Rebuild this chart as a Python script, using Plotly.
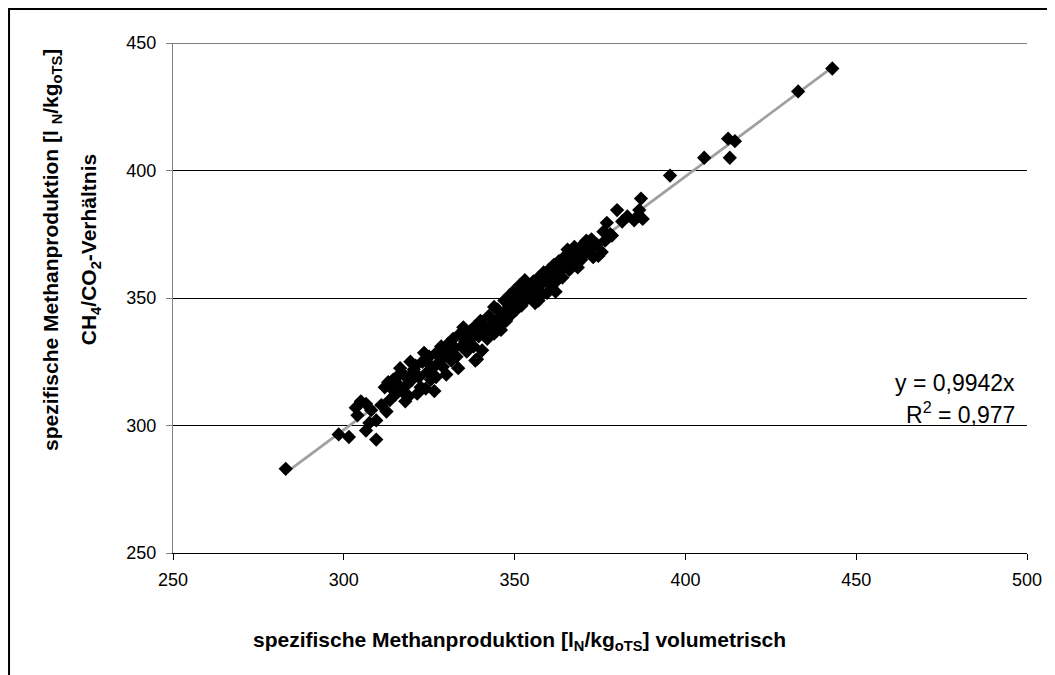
import plotly.graph_objects as go

# Spezifische Methanproduktion: volumetrisch (x) vs. aus CH4/CO2-Verhältnis (y), lN/kgoTS
VOL_X = [
    283, 298.5, 301.5, 309.5, 306.5, 307.5, 309.5, 304, 306.5, 312.5, 303.5, 308, 305, 311,
    313, 314.5, 315.5, 316, 317, 317.5, 318.5, 319, 320, 320.5, 321, 322, 322.5, 323, 324,
    324.5, 325, 325.5, 326, 327, 327.5, 328, 328.5, 329, 329.5, 330, 315, 318, 313.5, 316.5,
    319.5, 321.5, 326.5, 323.5, 314, 320, 325, 328, 312,
    330.5, 331, 331.5, 332, 332.5, 333, 334, 334.5, 335, 335.5, 336, 337, 337.5, 338, 338.5,
    339, 339.5, 340, 340.5, 341, 342, 342.5, 343, 344, 344.5, 345, 345.5, 346, 346.5, 347,
    347.5, 348, 348.5, 349, 349.5, 350, 350.5, 338.5, 333.5, 336, 341, 344, 347,
    351, 351.5, 352, 352.5, 353, 353.5, 354, 355, 355.5, 356, 356.5, 357, 357.5, 358, 358.5,
    359, 359.5, 360, 360.5, 361, 361.5, 362, 362.5, 363, 363.5, 364, 364.5, 365, 365.5, 366,
    366.5, 367, 367.5, 368, 368.5, 369, 369.5, 370, 357, 362, 354, 360, 365,
    370.5, 371, 372, 372.5, 373, 374, 374.5, 375.5, 376, 376.5, 377, 378, 378.5, 380, 381.5,
    383, 385, 386, 386.5, 387, 387.5,
    395.5, 405.5, 413, 412.5, 414.5, 433, 443,
]
RATIO_Y = [
    283, 296.5, 295.5, 294.5, 298, 301, 302, 304, 308.5, 305.5, 307, 306, 309.5, 308,
    317, 318, 319, 316, 313.5, 320, 316, 311.5, 318, 322, 323.5, 319, 315, 325, 314.5,
    321, 327, 318, 322.5, 319, 329, 325, 331, 323, 327.5, 320, 312, 309.5, 310, 322.5,
    325, 312.5, 313.5, 328.5, 314.5, 320.5, 324, 327, 315,
    332, 329, 325.5, 334, 330.5, 327, 336, 331, 338.5, 333, 329, 337, 334.5, 331, 339,
    326, 335, 341, 329.5, 337.5, 334, 343, 338.5, 336, 341, 345.5, 339, 337.5, 343.5, 349,
    341, 346, 351, 343.5, 348, 353, 345.5, 325.5, 322.5, 333.5, 339.5, 346.5, 344.5,
    350, 355, 347, 352.5, 357, 349.5, 354, 351.5, 356.5, 348, 353, 358, 355, 351.5, 360,
    357, 352, 361, 358.5, 355, 363, 359.5, 357, 364.5, 361, 358, 366, 363, 369, 361,
    367, 364.5, 370, 366, 362, 368.5, 365, 371, 349, 352.5, 351, 356, 366.5,
    367.5, 372.5, 369, 373, 366, 371, 366.5, 368, 376, 372.5, 379.5, 375, 374.5, 384.5, 380,
    382, 380.5, 382, 384.5, 389, 381,
    398, 405, 405, 412.5, 411.5, 431, 440,
]

# Linearer Trend durch den Ursprung: y = 0,9942x
TREND_X = [282.5, 443.0]
TREND_Y = [280.9, 440.4]

X_TICKS = [250, 300, 350, 400, 450, 500]
Y_TICKS = [250, 300, 350, 400, 450]

FONT = "Liberation Sans, Arial, sans-serif"

fig = go.Figure()
fig.add_trace(go.Scatter(x=TREND_X, y=TREND_Y, mode="lines",
                         line=dict(color="#a0a0a0", width=2.8), hoverinfo="skip"))
fig.add_trace(go.Scatter(x=VOL_X, y=RATIO_Y, mode="markers",
                         marker=dict(symbol="diamond", size=11, color="black",
                                     line=dict(width=0))))

fig.update_layout(
    width=1047, height=667,
    margin=dict(l=165, r=28, t=35, b=122),
    paper_bgcolor="white", plot_bgcolor="white",
    showlegend=False,
    font=dict(family=FONT, size=18, color="black"),
    xaxis=dict(range=[250, 500], tickvals=X_TICKS, showgrid=False, zeroline=False,
               showline=True, linecolor="black", linewidth=1,
               ticks="outside", ticklen=6, tickcolor="black",
               tickfont=dict(size=18), ticklabelstandoff=4),
    yaxis=dict(range=[250, 450], tickvals=Y_TICKS, showgrid=True, gridcolor="black",
               gridwidth=1, zeroline=False, showline=True, linecolor="#808080",
               linewidth=1, ticks="outside", ticklen=6, tickcolor="#808080",
               tickfont=dict(size=18), ticklabelstandoff=6),
    shapes=[
        dict(type="line", xref="paper", yref="y", x0=0, x1=1, y0=450, y1=450,
             line=dict(color="#808080", width=2)),
        # outer chart frame (runs past the right and bottom edges)
        dict(type="rect", xref="paper", yref="paper",
             x0=-0.1920, x1=1.1, y0=-0.4, y1=1.0667,
             line=dict(color="black", width=2), fillcolor="rgba(0,0,0,0)",
             layer="above"),
    ],
    annotations=[
        dict(text="<b>spezifische Methanproduktion [l<sub>N</sub>/kg<sub>oTS</sub>] volumetrisch</b>",
             xref="paper", yref="paper", x=0.406, y=-0.173, showarrow=False,
             font=dict(size=21, family=FONT), xanchor="center", yanchor="middle"),
        dict(text="<b>spezifische Methanproduktion [l <sub>N</sub>/kg<sub>oTS</sub>]</b>",
             xref="paper", yref="paper", x=-0.1417, y=0.594, showarrow=False,
             textangle=-90, font=dict(size=21, family=FONT),
             xanchor="center", yanchor="middle"),
        dict(text="<b>CH<sub>4</sub>/CO<sub>2</sub>-Verhältnis</b>",
             xref="paper", yref="paper", x=-0.097, y=0.594, showarrow=False,
             textangle=-90, font=dict(size=21, family=FONT),
             xanchor="center", yanchor="middle"),
        dict(text="y = 0,9942x", xref="paper", yref="paper", x=0.988, y=0.333,
             showarrow=False, xanchor="right", yanchor="middle",
             font=dict(size=23, family=FONT)),
        dict(text="R<sup>2</sup> = 0,977", xref="paper", yref="paper", x=0.988, y=0.275,
             showarrow=False, xanchor="right", yanchor="middle",
             font=dict(size=23, family=FONT)),
    ],
)

fig.write_html("out.html")
